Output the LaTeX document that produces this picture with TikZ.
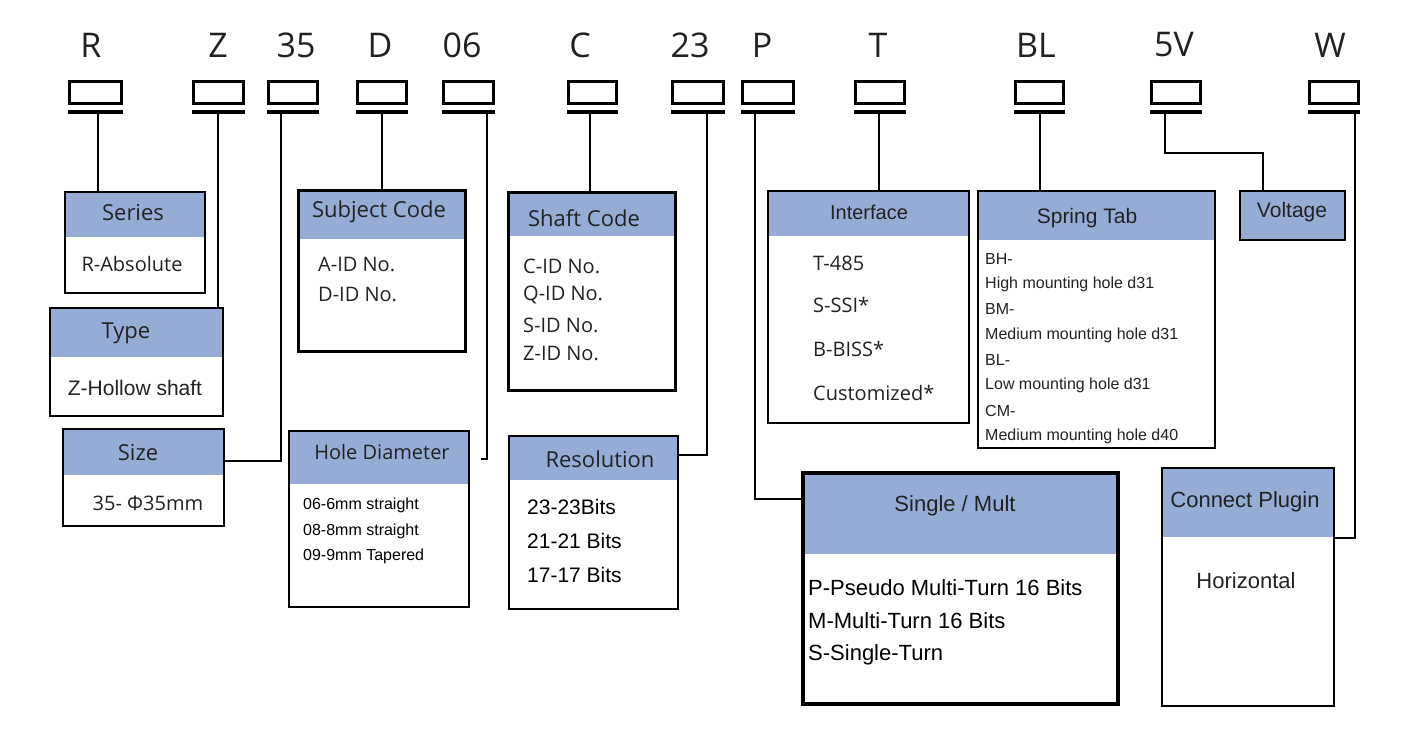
\documentclass[tikz,border=0pt]{standalone}
\usepackage{fontspec}
\setmainfont{Open Sans}
\newfontfamily\arialf{Liberation Sans}
\definecolor{hb}{HTML}{97ABD7}
\definecolor{tx}{HTML}{222222}
\newcommand{\fs}[1]{\fontsize{#1}{#1}\selectfont}
\tikzset{
  code/.style={font=\fs{34}\color{tx}, anchor=center},
  slot/.style={draw, line width=2.6pt, anchor=north west, inner sep=0pt},
  bar/.style={line width=3.5pt},
  wire/.style={line width=2.6pt},
  txt/.style={anchor=west, inner sep=0pt, text=tx},
  ctxt/.style={anchor=center, inner sep=0pt, text=tx},
}
% name, x1,y1,x2,y2, header bottom y, line width
\newcommand{\entrybox}[7]{%
  \fill[hb] (#2,#3) rectangle (#4,#6);
  \node[draw, line width=#7, anchor=north west, inner sep=0pt,
        minimum width={(#4-#2)*1pt}, minimum height={(#5-#3)*1pt}] (#1) at (#2,#3) {};}
\newcommand{\slotbox}[3]{% name, x1, x2
  \node[slot, minimum width={(#3-#2)*1pt}, minimum height=22pt] (#1) at (#2,80) {};
  \draw[bar] (#2,112) -- (#3+3,112);}
\begin{document}
\begin{tikzpicture}[x=1pt,y=-1pt]
\useasboundingbox (0,0) rectangle (1423,746);
% top codes
\foreach \t/\x in {R/91,Z/218,35/296,D/380,06/462,C/580,23/690,P/762,T/878,BL/1036,5V/1174,W/1330}
  \node[code] at (\x,45) {\t};
\slotbox{sR}{68}{120}
\slotbox{sZ}{192}{242}
\slotbox{s35}{267}{316}
\slotbox{sD}{356}{405}
\slotbox{s06}{442}{492}
\slotbox{sC}{567}{615}
\slotbox{s23}{671}{722}
\slotbox{sP}{741}{792}
\slotbox{sT}{854}{903}
\slotbox{sBL}{1014}{1062}
\slotbox{s5V}{1150}{1199}
\slotbox{sW}{1308}{1357}
% boxes
\entrybox{series}{64}{191}{204}{292}{237}{1.6pt}
\entrybox{type}{49}{307}{222}{415}{357}{2.4pt}
\entrybox{size}{62}{428}{223}{525}{475}{1.6pt}
\entrybox{subj}{297}{189}{464}{350}{239}{2.6pt}
\entrybox{hole}{288}{430}{468}{606}{484}{2pt}
\entrybox{shaft}{507}{191}{674}{389}{236}{2.6pt}
\entrybox{res}{508}{435}{677}{608}{480}{1.6pt}
\entrybox{iface}{767}{190}{968}{422}{236}{2pt}
\entrybox{spring}{977}{190}{1214}{447}{240}{2.4pt}
\entrybox{volt}{1239}{190}{1344}{239}{239}{1.8pt}
\entrybox{single}{801}{471}{1116}{702}{554}{4pt}
\entrybox{plug}{1161}{467}{1333}{705}{537}{2pt}
% connectors
\draw[wire] (98,112) -- (series.north -| 98,0);
\draw[wire] (218,112) -- (type.north -| 218,0);
\draw[wire] (281,112) |- (size.east |- 0,461);
\draw[wire] (382,112) -- (subj.north -| 382,0);
\draw[wire] (487,112) |- (481,459);
\draw[wire] (590,112) -- (shaft.north -| 590,0);
\draw[wire] (707,112) |- (res.east |- 0,455);
\draw[wire] (755,112) |- (single.west |- 0,499);
\draw[wire] (879,112) -- (iface.north -| 879,0);
\draw[wire] (1040,112) -- (spring.north -| 1040,0);
\draw[wire] (1165,112) |- (1263,153) -- (volt.north -| 1263,0);
\draw[wire] (1355,112) |- (plug.east |- 0,538);
% texts
\node[ctxt, font=\fs{22}] at (133,213) {Series};
\node[ctxt, font=\fs{20}] at (132,264) {R-Absolute};
\node[ctxt, font=\fs{22}] at (126,333) {Type};
\node[ctxt, font=\arialf\fs{21}] at (135,388) {Z-Hollow shaft};
\node[ctxt, font=\fs{22}] at (138,453) {Size};
\node[ctxt, font=\fs{20}] at (148,503) {35- Φ35mm};
\node[ctxt, font=\fs{22}] at (379,212) {Subject Code};
\node[txt, font=\fs{20}] at (318,264) {A-ID No.};
\node[txt, font=\fs{20}] at (318,295) {D-ID No.};
\node[ctxt, font=\fs{22}] at (584,218) {Shaft Code};
\foreach \t/\y in {C-ID No./266,Q-ID No./295,S-ID No./325,Z-ID No./354}
  \node[txt, font=\fs{20}] at (523,\y) {\t};
\node[ctxt, font=\arialf\fs{20}] at (869,212) {Interface};
\foreach \t/\y in {T-485/263,S-SSI*/305,B-BISS*/349,Customized*/393}
  \node[txt, font=\fs{20}] at (813,\y) {\t};
\node[ctxt, font=\arialf\fs{21}] at (1087,218) {Spring Tab};
\foreach \t/\y in {BH-/259,High mounting hole d31/284,BM-/309,Medium mounting hole d31/335,BL-/360,Low mounting hole d31/385,CM-/411,Medium mounting hole d40/436}
  \node[txt, font=\arialf\fs{16}] at (985,\y) {\t};
\node[ctxt, font=\arialf\fs{21}] at (1292,212) {Voltage};
\node[ctxt, font=\fs{20}] at (382,452) {Hole Diameter};
\foreach \t/\y in {06-6mm straight/505,08-8mm straight/531,09-9mm Tapered/556}
  \node[txt, font=\arialf\fs{16}, text=black] at (303,\y) {\t};
\node[ctxt, font=\fs{22}] at (600,459) {Resolution};
\foreach \t/\y in {23-23Bits/507,21-21 Bits/541,17-17 Bits/575}
  \node[txt, font=\arialf\fs{21}, text=black] at (527,\y) {\t};
\node[ctxt, font=\arialf\fs{22}] at (955,506) {Single / Mult};
\foreach \t/\y in {P-Pseudo Multi-Turn 16 Bits/588,M-Multi-Turn 16 Bits/621,S-Single-Turn/655}
  \node[txt, font=\arialf\fs{22}, text=black] at (808,\y) {\t};
\node[ctxt, font=\arialf\fs{22}] at (1245,502) {Connect Plugin};
\node[ctxt, font=\arialf\fs{22}] at (1246,581) {Horizontal};
\end{tikzpicture}
\end{document}
